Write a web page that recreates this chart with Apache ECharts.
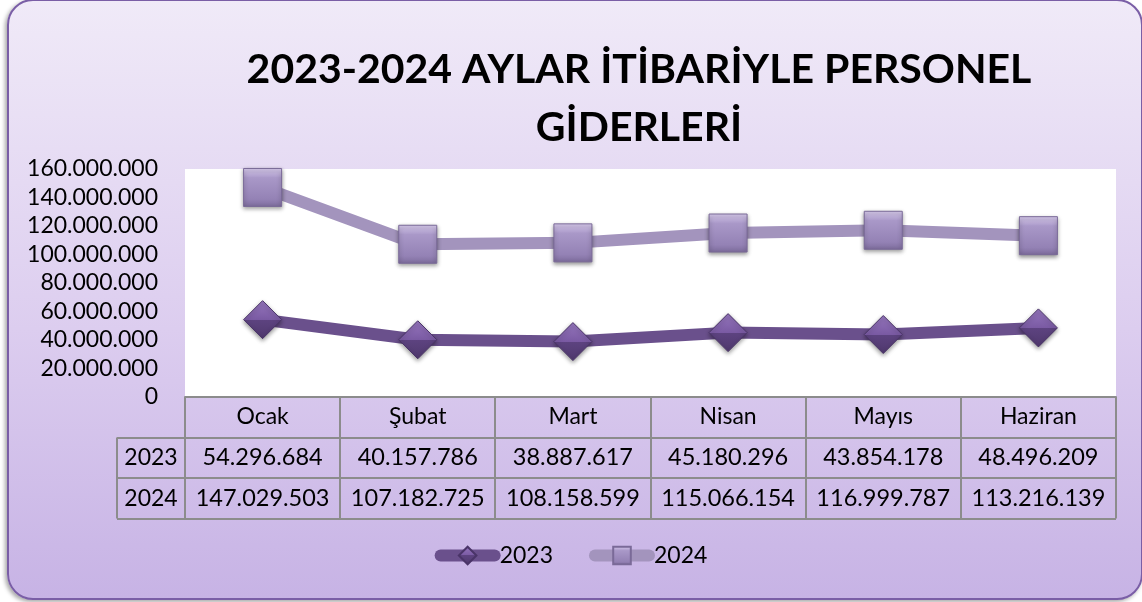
<!DOCTYPE html>
<html>
    <head>
        <meta charset="UTF-8">
        <title>Personel Giderleri</title>
        <script src="https://cdn.jsdelivr.net/npm/echarts@6/dist/echarts.min.js"></script>
        <style>
            body { margin:0; background:#fff; }
            #frame {
                position:absolute; left:7px; top:-1px; width:1132px; height:597px;
                border:2px solid #7a5ea6; border-radius:26px;
                background:linear-gradient(to bottom, #f0eaf8 0%, #dccdef 55%, #c7b3e5 100%);
                box-shadow:-2px 2px 4px rgba(0,0,0,0.35);
            }
            #chart { position:absolute; left:0; top:0; width:1142px; height:602px; }
        </style>
    </head>
    <body>
        <div id="frame"></div>
        <div id="chart"></div>
        <script>
            // veriler
            var months = ['Ocak', 'Şubat', 'Mart', 'Nisan', 'Mayıs', 'Haziran'];
            var seriesNames = ['2023', '2024'];
            var values2023 = [54296684, 40157786, 38887617, 45180296, 43854178, 48496209];
            var values2024 = [147029503, 107182725, 108158599, 115066154, 116999787, 113216139];
            var yTicks = { min: 0, max: 160000000, interval: 20000000 };

            var FONT = 'Lato';
            // grid kutusu (piksel)
            var G = { left: 185, right: 26, top: 169, bottom: 205 };
            var W = 1142, H = 602;
            var rowH = 40.5;

            function dots(v) {
                return String(Math.round(v)).replace(/\B(?=(\d{3})+(?!\d))/g, '.');
            }

            var chart = echarts.init(document.getElementById('chart'));

            // tablo çizgileri
            var gx0 = G.left, gx1 = W - G.right, gy = H - G.bottom;
            var colW = (gx1 - gx0) / months.length;
            var tableBottom = gy + rowH * 3;
            var lineStyle = { stroke: '#8c8c8c', lineWidth: 2 };
            var graphics = [];
            for (var i = 0; i <= months.length; i++) {
                var x = Math.round(gx0 + i * colW);
                graphics.push({ type: 'line', shape: { x1: x, y1: gy, x2: x, y2: tableBottom }, style: lineStyle });
            }
            graphics.push({ type: 'line', shape: { x1: 117, y1: gy + rowH, x2: 117, y2: tableBottom }, style: lineStyle });
            for (var r = 1; r <= 3; r++) {
                var y = Math.round(gy + r * rowH);
                graphics.push({ type: 'line', shape: { x1: 117, y1: y, x2: gx1, y2: y }, style: lineStyle });
            }
            graphics.push({ type: 'line', shape: { x1: gx0, y1: gy, x2: gx1, y2: gy }, style: lineStyle });
            seriesNames.forEach(function (n, k) {
                graphics.push({
                    type: 'text', x: 151, y: gy + rowH * (k + 1.5),
                    style: { text: n, font: '23px ' + FONT, fill: '#000', align: 'center', verticalAlign: 'middle' }
                });
            });

            var squareFill = new echarts.graphic.LinearGradient(0, 0, 0, 1, [
                { offset: 0, color: '#ddd0f2' },
                { offset: 0.25, color: '#a998c8' },
                { offset: 0.8, color: '#9482b5' },
                { offset: 1, color: '#7d6c9c' }
            ]);
            var diamondFill = new echarts.graphic.LinearGradient(0, 0, 0, 1, [
                { offset: 0, color: '#9677be' },
                { offset: 0.5, color: '#7a5aa3' },
                { offset: 0.5, color: '#5d4380' },
                { offset: 1, color: '#4f386d' }
            ]);

            var tableAxis = function (vals, offset) {
                return {
                    type: 'category', data: vals.map(dots), position: 'bottom', offset: offset,
                    axisLine: { show: false }, axisTick: { show: false },
                    axisLabel: { fontFamily: FONT, fontSize: 23.5, color: '#000', margin: 8, interval: 0, hideOverlap: false }
                };
            };

            var option = {
                animation: false,
                title: {
                    text: '2023-2024 AYLAR İTİBARİYLE PERSONEL\nGİDERLERİ',
                    left: 634, top: 36, textAlign: 'center',
                    textStyle: { fontFamily: FONT, fontSize: 41, fontWeight: 'bold', color: '#000', lineHeight: 58 }
                },
                legend: {
                    data: seriesNames, bottom: 30, left: 'center',
                    itemWidth: 54, itemHeight: 22, itemGap: 36,
                    lineStyle: { width: 12, cap: 'round' },
                    textStyle: { fontFamily: FONT, fontSize: 23, color: '#000', padding: [0, 0, 0, 0] }
                },
                grid: {
                    left: G.left, right: G.right, top: G.top, bottom: G.bottom,
                    show: true, backgroundColor: '#fff', borderWidth: 0
                },
                xAxis: [
                    {
                        type: 'category', data: months,
                        axisLine: { show: true, lineStyle: { color: '#8c8c8c', width: 2 } },
                        axisTick: { show: false },
                        axisLabel: { fontFamily: FONT, fontSize: 23, color: '#000', margin: 8, interval: 0 }
                    },
                    tableAxis(values2023, rowH),
                    tableAxis(values2024, rowH * 2)
                ],
                yAxis: {
                    type: 'value', min: yTicks.min, max: yTicks.max, interval: yTicks.interval,
                    splitLine: { show: false }, axisLine: { show: false }, axisTick: { show: false },
                    axisLabel: { fontFamily: FONT, fontSize: 23, color: '#000', margin: 27, formatter: dots }
                },
                series: [
                    {
                        name: seriesNames[0], type: 'line', data: values2023,
                        symbol: 'diamond', symbolSize: 38,
                        lineStyle: { width: 12, color: '#6a508c' },
                        itemStyle: { color: diamondFill, borderColor: '#4a3468', borderWidth: 1,
                            shadowBlur: 4, shadowColor: 'rgba(0,0,0,0.4)', shadowOffsetY: 2 },
                        z: 3
                    },
                    {
                        name: seriesNames[1], type: 'line', data: values2024,
                        symbol: 'rect', symbolSize: 38,
                        lineStyle: { width: 12, color: '#a394bd' },
                        itemStyle: { color: squareFill, borderColor: '#7a6a98', borderWidth: 1,
                            shadowBlur: 4, shadowColor: 'rgba(0,0,0,0.4)', shadowOffsetY: 2 },
                        z: 3
                    }
                ],
                graphic: graphics
            };
            chart.setOption(option);
        </script>
    </body>
</html>
